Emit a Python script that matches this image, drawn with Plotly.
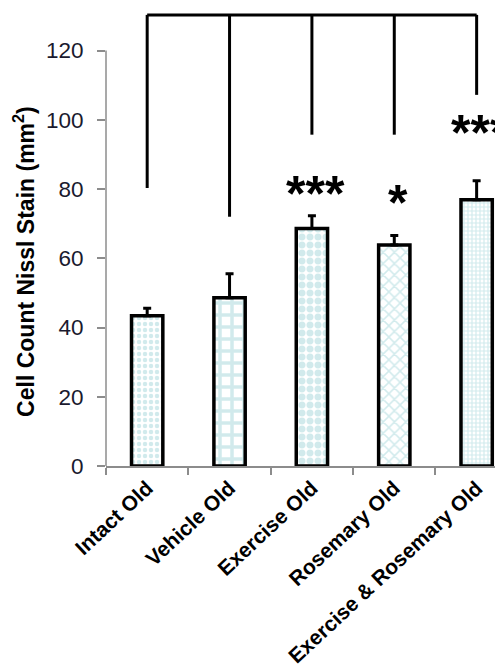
import plotly.graph_objects as go

categories = ["Intact Old", "Vehicle Old", "Exercise Old", "Rosemary Old", "Exercise & Rosemary Old"]
means = [43.4, 48.6, 68.6, 63.8, 76.9]
sem = [2.2, 6.9, 3.7, 2.8, 5.5]
sig_labels = ["", "", "***", "*", "***"]
sig_label_y = [None, None, 78.6, 76.0, 96.2]
bracket_bottoms = [80.3, 72.0, 95.7, 95.7, 107.2]
bracket_top = 130.3
y_ticks = [0, 20, 40, 60, 80, 100, 120]

pattern_shapes = [".", "+", ".", "x", "+"]
pattern_sizes = [6, 12, 8, 8, 4]
pattern_solid = [0.45, 0.5, 0.6, 0.35, 0.5]
teal = "#a3d6da"
FONT = "Arial, Liberation Sans, sans-serif"

fig = go.Figure()
for i, c in enumerate(categories):
    fig.add_trace(go.Bar(
        x=[c], y=[means[i]], width=0.38,
        marker=dict(color="white",
                    line=dict(color="black", width=3.5),
                    pattern=dict(shape=pattern_shapes[i], fgcolor=teal, bgcolor="white",
                                 size=pattern_sizes[i], solidity=pattern_solid[i], fillmode="overlay")),
        error_y=dict(type="data", symmetric=False, array=[sem[i]], arrayminus=[0],
                     color="black", thickness=3, width=4),
        showlegend=False,
    ))

# significance bracket
for i in range(len(categories)):
    fig.add_shape(type="line", xref="x", yref="y", x0=i, x1=i,
                  y0=bracket_bottoms[i], y1=bracket_top, line=dict(color="black", width=3))
fig.add_shape(type="line", xref="x", yref="y", x0=0, x1=len(categories) - 1,
              y0=bracket_top, y1=bracket_top, line=dict(color="black", width=3))

# y axis line from 0 to 120
fig.add_shape(type="line", xref="paper", yref="y", x0=0, x1=0, y0=0, y1=y_ticks[-1],
              line=dict(color="#8c8c8c", width=1.5))

for i, s in enumerate(sig_labels):
    if s:
        fig.add_annotation(x=i, y=sig_label_y[i], xref="x", yref="y", text=s, showarrow=False,
                           font=dict(family=FONT, size=50, color="black", weight="bold"),
                           xanchor="center", yanchor="middle", xshift=4)

fig.add_annotation(text="Cell Count Nissl Stain (mm<sup>2</sup>)", xref="paper", yref="paper",
                   x=-0.205, y=0.448, textangle=-90, showarrow=False,
                   xanchor="center", yanchor="middle",
                   font=dict(family=FONT, size=23, color="black", weight="bold"))

fig.update_layout(
    width=503, height=669,
    margin=dict(l=98, r=8, t=1, b=211, autoexpand=False),
    plot_bgcolor="white", paper_bgcolor="white",
    font=dict(family=FONT),
)
fig.update_xaxes(
    range=[-0.5, 4.32], showline=True, linecolor="#8c8c8c", linewidth=1.5,
    ticks="outside", tickson="boundaries", ticklen=7, tickcolor="#8c8c8c", tickwidth=1.5,
    tickangle=-43, tickfont=dict(family=FONT, size=21, color="black", weight="bold"),
    showgrid=False, zeroline=False, automargin=False,
)
fig.update_yaxes(
    range=[0, 132], tickvals=y_ticks, ticks="outside", ticklen=8, tickcolor="#8c8c8c", tickwidth=1.5,
    tickfont=dict(family=FONT, size=22.5, color="#1a1a2e"), showgrid=False, zeroline=False,
    showline=False, ticklabelstandoff=9, automargin=False,
)
fig.write_html("out.html")
